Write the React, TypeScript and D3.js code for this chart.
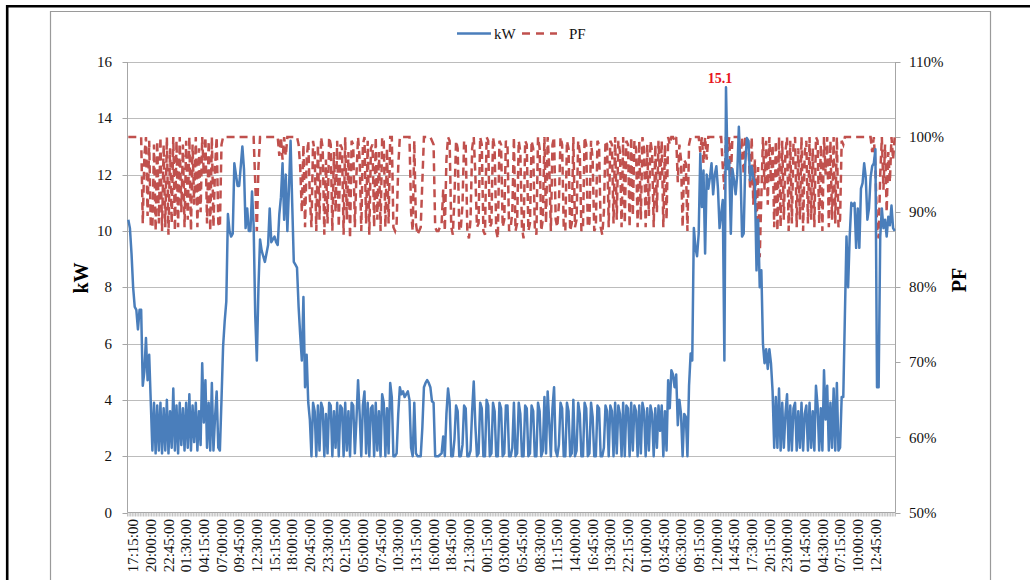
import React from "react";
import * as d3 from "d3";

// kW readings, 15-minute intervals starting 17:15
const kW: number[] = [
  10.4, 10.1, 9.2, 8.0, 7.3, 7.2, 6.5, 7.2, 7.2, 4.5, 5.0, 6.2, 4.7, 5.6, 3.9,
  2.2, 3.9, 2.1, 3.8, 2.2, 3.9, 2.1, 3.7, 2.2, 4.0, 2.1, 3.6, 2.3, 4.4, 2.2, 3.8, 2.1, 3.9, 2.4, 3.7,
  2.2, 3.9, 2.3, 4.2, 2.2, 3.8, 2.5, 3.9, 2.2, 3.6, 2.4, 5.3, 3.2, 4.7, 2.3, 3.9, 2.2, 4.6, 2.2, 3.4,
  4.3, 2.3, 2.2,
  4.0, 5.9, 6.8, 7.5, 10.6, 10.0, 9.8, 9.9, 12.4, 12.0, 11.6, 11.6, 12.3, 13.0, 12.2, 10.1, 10.8, 10.0, 10.0, 11.4,
  10.2, 7.0, 5.4, 8.0, 9.7, 9.3, 9.1, 8.9, 9.2, 9.5, 10.8, 9.6, 9.7, 9.8, 9.6, 9.5, 10.6, 11.2, 12.4, 10.4,
  12.0, 10.0, 11.5, 13.2, 11.0, 8.9, 8.8, 8.7, 7.3, 6.3, 5.4, 7.65, 4.45, 5.6, 3.9, 3.3,
  2.0, 3.9, 3.6, 2.0, 3.8, 2.2, 3.9, 3.7, 2.0, 3.5, 2.1, 3.9, 3.8, 2.0, 3.6, 2.3, 3.9, 2.0, 3.8, 3.7,
  2.0, 3.9, 2.2, 3.6, 2.0, 3.9, 3.8, 2.1, 3.3, 4.7, 3.5, 2.0, 3.8, 4.3, 2.1, 3.9, 2.0, 3.7, 3.8, 2.0,
  3.9, 2.2, 3.6, 2.0, 4.2, 3.9, 2.0, 3.7, 2.1, 4.6, 4.1, 2.0, 2.0, 2.1, 3.5, 4.45, 4.2, 4.3, 4.1, 4.2,
  4.3, 4.0, 2.3, 2.0, 3.9, 2.1, 2.0, 2.0, 2.0, 3.0, 4.45, 4.6, 4.7, 4.6, 4.45, 3.95, 3.9,
  2.0, 2.0, 2.0, 2.05, 2.1, 2.7, 2.0,
  3.5, 4.4, 3.9, 2.0, 2.0, 2.6, 3.8, 3.6, 2.0, 2.0, 2.4, 3.8, 3.7, 2.0, 2.0, 2.2, 3.6, 4.65, 3.1, 2.0,
  2.1, 3.9, 3.7, 2.0, 2.0, 4.0, 3.8, 2.0, 2.1, 3.9, 3.6, 2.0, 2.0, 3.9, 3.7, 2.0, 2.1, 3.8, 3.8, 2.0,
  2.0, 2.3, 3.9, 2.0, 2.1, 3.9, 3.5, 2.0, 2.0, 3.8, 3.7, 2.0, 2.1, 3.8, 3.6, 2.0, 2.0, 3.9, 3.6, 2.0,
  2.2, 4.1, 2.1, 4.3, 3.2, 2.0, 3.7, 4.45, 2.2, 2.0, 2.4, 3.9, 3.7, 2.0, 2.0, 3.9, 3.6, 2.0, 2.1, 4.0,
  2.0, 2.2, 3.9, 3.5, 2.0, 2.0, 3.9, 3.7, 2.0, 2.1, 3.9, 3.4, 2.0, 2.0, 3.8, 3.7, 2.0, 2.0, 2.3, 3.8,
  3.6, 2.0, 3.8, 3.6, 2.0, 3.9, 2.1, 3.8, 3.5, 2.0, 3.9, 2.0, 3.8, 3.7, 2.0, 3.9, 2.2, 3.8, 3.6, 2.0,
  3.8, 2.1, 3.9, 3.6, 2.0, 3.7, 2.2, 3.8, 3.5, 2.0, 3.7, 2.3, 3.8,
  2.9, 3.8, 2.0, 3.6, 2.2, 4.7, 3.7, 5.05, 4.9, 4.45, 4.9, 3.1, 4.0, 3.5, 2.0, 3.5, 3.4, 2.0, 4.5, 5.65,
  5.4, 10.1,
  9.4, 9.1, 9.9, 12.75, 10.85, 12.15, 9.2, 12.0, 11.5, 11.9, 12.4, 11.3, 12.0, 12.3, 11.5, 10.1, 10.6, 11.1, 5.4, 15.1,
  12.2, 12.5, 9.9, 12.2, 11.8, 11.3, 12.0, 13.7, 12.2, 9.8, 9.9, 12.4, 13.3, 13.2, 11.8, 12.3, 11.9, 11.7, 8.6, 10.4,
  8.0, 8.6, 6.0, 5.3, 5.8, 5.1, 5.8, 5.3, 4.3, 2.3, 4.1, 2.3, 4.4,
  2.2, 3.9, 2.3, 3.5, 4.2, 2.2, 3.8, 2.2, 3.7, 3.9, 2.2, 3.6, 2.3, 3.9, 2.2, 3.5, 3.8, 2.2, 3.9, 2.3,
  3.6, 2.2, 4.5, 3.8, 2.2, 3.7, 2.2, 5.05, 3.3, 4.5, 2.2, 3.9, 2.3, 4.4, 2.2, 4.6, 2.2, 2.3, 4.1,
  4.1, 7.0, 9.8, 8.0, 9.8, 11.0, 10.9, 11.0, 9.4, 10.8, 9.4, 11.5, 11.7, 12.4, 11.9, 10.4, 10.8, 11.9, 12.3, 12.4,
  12.9, 4.45, 4.45, 9.8, 10.8, 10.1, 10.4, 9.8, 10.5, 10.2, 10.9, 10.1, 10.0,
];

// Power factor (%), same intervals
const PF: number[] = [
  100, 100, 100, 100, 100, 100, 100, 100, 100, 88.5, 97.5, 100, 89.5, 99.5, 88,
  88, 99, 87.5, 99.5, 88.5, 100, 87.5, 99, 88, 100, 87, 98.5, 88.5, 100, 87.5, 99.5, 88, 100, 90, 99,
  88, 99.5, 89, 100, 87.5, 99, 91, 100, 88, 98.5, 90, 100, 95, 100, 88.5, 99.5, 87.5, 100, 88, 96,
  100, 88.5, 88,
  99, 100, 100, 100, 100, 100, 100, 100, 100, 100, 100, 100, 100, 100, 100, 100, 100, 100, 100, 100,
  100, 94, 87.5, 96, 100, 100, 100, 100, 100, 100, 100, 100, 100, 100, 100, 100, 97.5, 100, 97, 100,
  97.5, 100, 100, 100, 100, 100, 100, 100, 99, 96, 90, 99, 88, 97, 99.5, 92,
  88, 99.5, 98, 87.5, 99, 89, 100, 98.5, 87, 97, 88.5, 100, 99, 87.5, 98, 90, 99.5, 88, 99, 98.5,
  87, 100, 89, 98, 86.5, 99.5, 99, 88, 95, 100, 97, 87.5, 99, 100, 88.5, 99.5, 87, 98.5, 99, 88,
  100, 89, 98, 87.5, 100, 99.5, 88, 98.5, 88.5, 100, 100, 88, 87.5, 88.5, 96, 100, 100, 100, 100, 100,
  100, 100, 90, 87.5, 99.5, 88.5, 87, 87.5, 88, 94, 100, 100, 100, 100, 100, 99.5, 99,
  88, 87.5, 87.5, 88, 88.5, 93, 87.5,
  97, 100, 99.5, 88, 87, 92, 99.5, 98.5, 87.5, 88, 91, 99.5, 99, 87.5, 86.5, 89, 98.5, 100, 95, 88,
  88.5, 100, 99, 87.5, 87, 100, 99.5, 88, 88.5, 100, 98.5, 87.5, 86.5, 99.5, 99, 88, 89, 99.5, 99, 87.5,
  88, 90, 100, 87.5, 88.5, 99.5, 98, 88, 86.5, 99.5, 99, 87.5, 88.5, 99.5, 98.5, 88, 87, 100, 98.5, 87.5,
  89, 100, 88.5, 100, 96, 87.5, 99, 100, 89, 88, 91, 100, 99, 88, 87.5, 99.5, 98.5, 87.5, 88.5, 100,
  88, 89, 99.5, 98, 87.5, 88, 100, 99, 88, 88.5, 99.5, 97, 87.5, 88, 99.5, 99, 88, 87, 90, 99.5,
  99, 88, 99.5, 99, 88.5, 100, 89, 99.5, 98, 88, 100, 88.5, 99.5, 99, 88, 100, 89.5, 99.5, 98.5, 88,
  99.5, 89, 100, 98.5, 88, 99, 89.5, 99.5, 98, 88, 99, 90, 99.5,
  94, 99.5, 88, 99, 89, 100, 99, 100, 100, 99.5, 100, 94, 99, 97, 88, 97, 96.5, 87.5, 99, 100,
  100, 100,
  100, 100, 100, 98, 100, 96.5, 100, 97, 100, 100, 100, 100, 100, 100, 100, 100, 100, 96, 93, 100,
  98, 100, 94.5, 100, 100, 100, 100, 100, 97, 100, 95, 100, 100, 99, 93, 100, 91, 97, 88, 96,
  84, 92, 100, 93, 99.5, 91, 100, 94, 99, 88, 99.5, 87.5, 100,
  88, 99.5, 89, 98, 100, 87.5, 99.5, 88.5, 99, 100, 88, 98.5, 89, 100, 87.5, 98, 99.5, 88.5, 100, 89,
  98.5, 88, 100, 99.5, 88.5, 99, 87.5, 100, 95, 100, 88, 99.5, 89, 100, 88.5, 100, 88, 89, 99.5,
  99, 100, 100, 100, 100, 100, 100, 100, 100, 100, 100, 100, 100, 100, 100, 100, 100, 100, 98, 100,
  96, 88, 86.5, 95, 100, 93, 99, 90, 98, 94, 100, 97, 100,
];

const tickLabels: string[] = [
  "17:15:00", "20:00:00", "22:45:00", "01:30:00", "04:15:00", "07:00:00", "09:45:00", "12:30:00",
  "15:15:00", "18:00:00", "20:45:00", "23:30:00", "02:15:00", "05:00:00", "07:45:00", "10:30:00",
  "13:15:00", "16:00:00", "18:45:00", "21:30:00", "00:15:00", "03:00:00", "05:45:00", "08:30:00",
  "11:15:00", "14:00:00", "16:45:00", "19:30:00", "22:15:00", "01:00:00", "03:45:00", "06:30:00",
  "09:15:00", "12:00:00", "14:45:00", "17:30:00", "20:15:00", "23:00:00", "01:45:00", "04:30:00",
  "07:15:00", "10:00:00", "12:45:00",
];
const labelEvery = 11;
const kWTicks = [0, 2, 4, 6, 8, 10, 12, 14, 16];
const pfTicks = [50, 60, 70, 80, 90, 100, 110];

const FONT = "'Liberation Serif', 'Times New Roman', serif";
const BLUE = "#4a7ebb";
const RED = "#c0504d";

export default function App() {
  const W = 1030, H = 580;
  const X0 = 127.5, X1 = 895.5, Y0 = 512.5, Y1 = 62;
  const N = kW.length;
  const x = d3.scaleBand<number>().domain(d3.range(N)).range([X0, X1]);
  const bw = x.bandwidth();
  const cx = (i: number) => (x(i) as number) + bw / 2;
  const yL = d3.scaleLinear().domain([0, 16]).range([Y0, Y1]);
  const yR = d3.scaleLinear().domain([50, 110]).range([Y0, Y1]);

  const lineKW = d3.line<number>().x((_, i) => cx(i)).y((d) => yL(d));
  const linePF = d3.line<number>().x((_, i) => cx(i)).y((d) => yR(d));

  const tickPath = d3.range(N + 1).map((i) => `M${X0 + i * bw},${Y0}v4`).join("");
  const peakIdx = d3.maxIndex(kW);
  const peak = kW[peakIdx];

  return (
    <svg width={W} height={H} style={{ position: "absolute", left: 0, top: 0, background: "#fff" }}
      fontFamily={FONT}>
      <rect x={0} y={0} width={W} height={H} fill="#fff" />
      {/* outer black border */}
      <line x1={7.2} y1={5} x2={7.2} y2={H} stroke="#000" strokeWidth={2.6} />
      <line x1={6} y1={6.2} x2={W} y2={6.2} stroke="#000" strokeWidth={2.6} />
      {/* chart frame */}
      <path d={`M50.5,${H}V11.5H990.5V${H}`} fill="none" stroke="#9a9a9a" strokeWidth={1.2} />

      {/* gridlines */}
      {kWTicks.filter((t) => t > 0).map((t) => (
        <line key={t} x1={X0} x2={X1} y1={Math.round(yL(t)) + 0.5} y2={Math.round(yL(t)) + 0.5}
          stroke="#bcbcbc" strokeWidth={1} />
      ))}
      {/* axes */}
      <line x1={X0} x2={X0} y1={Y1} y2={Y0} stroke="#a6a6a6" strokeWidth={1} />
      <line x1={X1} x2={X1} y1={Y1} y2={Y0} stroke="#a6a6a6" strokeWidth={1} />
      <line x1={X0} x2={X1} y1={Y0} y2={Y0} stroke="#a6a6a6" strokeWidth={1} />
      <path d={tickPath} stroke="#b0b0b0" strokeWidth={0.8} fill="none" />
      {kWTicks.map((t) => (
        <g key={t}>
          <line x1={X0 - 5} x2={X0} y1={Math.round(yL(t)) + 0.5} y2={Math.round(yL(t)) + 0.5} stroke="#a6a6a6" />
          <text x={112} y={yL(t)} dy="0.34em" textAnchor="end" fontSize={15} fill="#111">{t}</text>
        </g>
      ))}
      {pfTicks.map((t) => (
        <g key={t}>
          <line x1={X1} x2={X1 + 5} y1={Math.round(yR(t)) + 0.5} y2={Math.round(yR(t)) + 0.5} stroke="#a6a6a6" />
          <text x={909} y={yR(t)} dy="0.34em" textAnchor="start" fontSize={15} fill="#111">{t}%</text>
        </g>
      ))}
      {tickLabels.map((lab, k) => {
        const lx = cx(k * labelEvery) + 10;
        const ly = 519;
        return (
          <text key={k} x={lx} y={ly} transform={`rotate(-90,${lx},${ly})`} textAnchor="end"
            fontSize={15} fill="#111">{lab}</text>
        );
      })}

      {/* axis titles */}
      <text x={88} y={278} transform="rotate(-90,88,278)" textAnchor="middle" fontSize={20}
        fontWeight="bold" fill="#000">kW</text>
      <text x={966} y={280} transform="rotate(-90,966,280)" textAnchor="middle" fontSize={20}
        fontWeight="bold" fill="#000">PF</text>

      {/* series */}
      <path d={linePF(PF) ?? ""} fill="none" stroke={RED} strokeWidth={2.5} strokeDasharray="8,5" />
      <path d={lineKW(kW) ?? ""} fill="none" stroke={BLUE} strokeWidth={2.5} strokeLinejoin="round" />

      {/* peak label */}
      <text x={cx(peakIdx) - 6} y={yL(peak) - 4} textAnchor="middle" fontSize={14} fontWeight="bold"
        fill="#e8141c">{peak.toFixed(1)}</text>

      {/* legend */}
      <line x1={457} x2={491} y1={33.5} y2={33.5} stroke={BLUE} strokeWidth={2.5} />
      <text x={494} y={33.5} dy="0.34em" fontSize={15} fill="#111">kW</text>
      <line x1={522} x2={557} y1={33.5} y2={33.5} stroke={RED} strokeWidth={2.5} strokeDasharray="8,6" />
      <text x={569} y={33.5} dy="0.34em" fontSize={15} fill="#111">PF</text>
    </svg>
  );
}
